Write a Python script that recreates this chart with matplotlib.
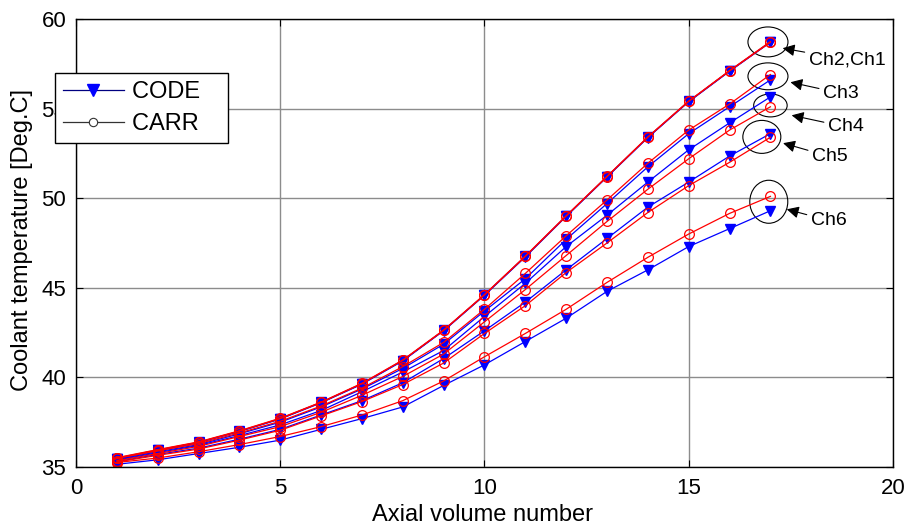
import matplotlib
matplotlib.use("Agg")
import matplotlib.pyplot as plt
from matplotlib.patches import Ellipse
import numpy as np

plt.rcParams['font.family'] = ['Liberation Sans', 'DejaVu Sans']

# axial volumes 1..17
volume = list(range(1, 18))

# coolant temperature per channel, CODE results
code_ch1 = [35.45, 35.92, 36.36, 36.98, 37.68, 38.58, 39.62, 40.92, 42.60, 44.58, 46.72, 48.98, 51.18, 53.38, 55.38, 57.08, 58.70]
code_ch2 = [35.47, 35.93, 36.37, 36.99, 37.69, 38.60, 39.64, 40.94, 42.62, 44.60, 46.75, 49.00, 51.20, 53.40, 55.40, 57.10, 58.72]
code_ch3 = [35.42, 35.85, 36.25, 36.85, 37.50, 38.35, 39.35, 40.50, 41.85, 43.70, 45.50, 47.70, 49.70, 51.75, 53.60, 55.10, 56.60]
code_ch4 = [35.38, 35.80, 36.20, 36.75, 37.35, 38.15, 39.20, 40.30, 41.50, 43.40, 45.25, 47.30, 49.05, 50.90, 52.70, 54.20, 55.65]
code_ch5 = [35.30, 35.70, 36.05, 36.55, 37.10, 37.90, 38.70, 39.70, 41.05, 42.60, 44.20, 46.00, 47.75, 49.50, 50.90, 52.35, 53.60]
code_ch6 = [35.15, 35.40, 35.75, 36.10, 36.50, 37.10, 37.70, 38.35, 39.55, 40.70, 42.00, 43.30, 44.80, 46.00, 47.30, 48.30, 49.30]

# coolant temperature per channel, CARR results
carr_ch1 = [35.52, 35.97, 36.40, 37.02, 37.72, 38.62, 39.67, 40.97, 42.64, 44.62, 46.77, 49.02, 51.22, 53.42, 55.42, 57.12, 58.74]
carr_ch2 = [35.50, 35.95, 36.38, 37.00, 37.70, 38.60, 39.65, 40.95, 42.62, 44.60, 46.75, 49.00, 51.20, 53.40, 55.40, 57.10, 58.70]
carr_ch3 = [35.48, 35.90, 36.30, 36.90, 37.55, 38.40, 39.40, 40.60, 41.95, 43.80, 45.80, 47.90, 49.90, 51.95, 53.80, 55.25, 56.90]
carr_ch4 = [35.35, 35.75, 36.15, 36.70, 37.25, 38.05, 39.00, 40.05, 41.30, 43.10, 44.90, 46.80, 48.70, 50.50, 52.20, 53.80, 55.10]
carr_ch5 = [35.28, 35.65, 36.00, 36.50, 37.05, 37.85, 38.65, 39.60, 40.80, 42.45, 44.00, 45.85, 47.50, 49.20, 50.70, 52.00, 53.40]
carr_ch6 = [35.25, 35.50, 35.85, 36.25, 36.70, 37.25, 37.90, 38.70, 39.80, 41.15, 42.45, 43.80, 45.30, 46.70, 48.00, 49.15, 50.10]

code_all = [code_ch1, code_ch2, code_ch3, code_ch4, code_ch5, code_ch6]
carr_all = [carr_ch1, carr_ch2, carr_ch3, carr_ch4, carr_ch5, carr_ch6]

fig = plt.figure(figsize=(9.11, 5.30), dpi=100)
ax = fig.add_axes([0.0834, 0.1189, 0.8968, 0.8453])

for y in code_all:
    ax.plot(volume, y, color='#0000ff', lw=0.9, marker='v', ms=7.5,
            mfc='#0000ff', mec='#0000ff')
for y in carr_all:
    ax.plot(volume, y, color='#ff0000', lw=0.9, marker='o', ms=7,
            mfc='none', mec='#ff0000', mew=0.9)

ax.set_xlim(0, 20)
ax.set_ylim(35, 60)
ax.set_xticks([0, 5, 10, 15, 20])
ax.set_yticks([35, 40, 45, 50, 55, 60])
ax.grid(True, color='#8c8c8c', lw=1.0)
ax.set_axisbelow(True)
ax.tick_params(direction='in', top=True, right=True, labelsize=16, length=5)
ax.tick_params(axis='x', pad=8)
ax.tick_params(axis='y', pad=7)
for s in ax.spines.values():
    s.set_linewidth(1.0)

ax.set_xlabel('Axial volume number', fontsize=17)
ax.xaxis.set_label_coords(0.498, -0.083)
ax.set_ylabel('Coolant temperature [Deg.C]', fontsize=17)
ax.yaxis.set_label_coords(-0.053, 0.507)

# circle each channel pair at the last volume and point to it
labels = ['Ch2,Ch1', 'Ch3', 'Ch4', 'Ch5', 'Ch6']
pairs = [(code_ch1, carr_ch1), (code_ch3, carr_ch3), (code_ch4, carr_ch4),
         (code_ch5, carr_ch5), (code_ch6, carr_ch6)]
ell_w = [0.98, 0.98, 0.82, 0.93, 0.93]
ell_h = [1.67, 1.50, 1.28, 1.84, 2.40]
ell_dx = [-0.06, -0.06, 0.0, -0.21, -0.04]
ell_dy = [0.0, 0.05, -0.2, -0.08, 0.1]
text_x = [17.94, 18.29, 18.41, 18.02, 17.99]
text_dy = [-1.0, -0.95, -1.2, -1.1, -1.05]
head_dx = [0.30, 0.49, 0.52, 0.31, 0.40]
head_dy = [-0.35, -0.33, -0.55, -0.35, -0.42]

for i, (c, r) in enumerate(pairs):
    xc = volume[-1] + ell_dx[i]
    yc = (c[-1] + r[-1]) / 2 + ell_dy[i]
    ax.add_patch(Ellipse((xc, yc), ell_w[i], ell_h[i], fill=False,
                         ec='black', lw=0.8, clip_on=False))
    ax.annotate(labels[i], xy=(volume[-1] + head_dx[i], yc + head_dy[i]),
                xytext=(text_x[i], yc + text_dy[i]), fontsize=14,
                ha='left', va='center', annotation_clip=False,
                arrowprops=dict(arrowstyle='-|>', color='black', lw=0.8,
                                mutation_scale=18, shrinkA=1, shrinkB=0))

# legend with neutral sample lines
h1, = ax.plot([], [], color='#000080', lw=0.9, marker='v', ms=8,
              mfc='#0000ff', mec='#0000ff')
h2, = ax.plot([], [], color='#333333', lw=0.9, marker='o', ms=6,
              mfc='white', mec='#333333', mew=0.8)
leg = ax.legend([h1, h2], ['CODE   ', 'CARR   '], loc='upper left',
                bbox_to_anchor=(55 / 911, 1 - 73 / 530),
                bbox_transform=fig.transFigure, fontsize=17, frameon=True,
                fancybox=False, edgecolor='black', framealpha=1,
                handlelength=2.6, handletextpad=0.35, borderpad=0.33,
                labelspacing=0.45, borderaxespad=0)
leg.get_frame().set_linewidth(1.0)

fig.savefig('out.png', dpi=100)
